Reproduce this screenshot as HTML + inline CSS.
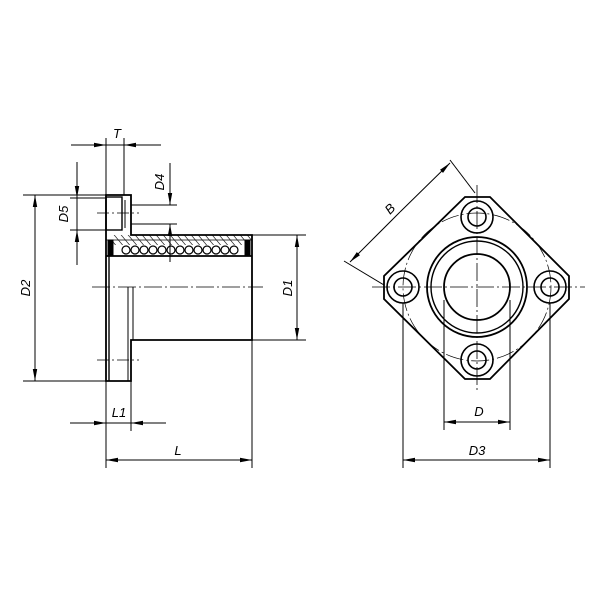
<!DOCTYPE html>
<html><head><style>body{margin:0;background:#fff}svg{display:block}</style></head><body>
<svg width="600" height="600" viewBox="0 0 600 600" xmlns="http://www.w3.org/2000/svg" font-family="Liberation Sans, sans-serif" font-style="italic" font-size="13">
<defs>
<marker id="a" markerWidth="12" markerHeight="6" refX="12" refY="3" orient="auto" markerUnits="userSpaceOnUse"><path d="M0,0.8 L12,3 L0,5.2z" fill="#000"/></marker>
<pattern id="h" width="7" height="10" patternUnits="userSpaceOnUse" patternTransform="skewX(40)"><line x1="1" y1="0" x2="1" y2="10" stroke="#000" stroke-width="0.8"/></pattern>
</defs>
<g stroke="#000" fill="none" stroke-width="1">
<!-- LEFT VIEW -->
<path d="M106,195 H131 V235 H252 V340 H131 V381 H106 Z" stroke-width="1.8"/>
<line x1="109" y1="255" x2="109" y2="381" stroke-width="1.4"/>
<line x1="128" y1="287" x2="128" y2="381" stroke-width="1"/>
<line x1="133" y1="287" x2="133" y2="340"/>
<rect x="106" y="197" width="16" height="33" stroke-width="1.4"/>
<line x1="125" y1="200" x2="125" y2="228"/>
<rect x="112" y="235" width="140" height="10" fill="url(#h)" stroke="none"/>
<line x1="106" y1="256" x2="252" y2="256" stroke-width="1.8"/>
<path d="M106,240 H252" stroke-width="0.8"/>
<rect x="108" y="240" width="5" height="15" fill="#000"/>
<rect x="245" y="240" width="5" height="15" fill="#000"/>
<g stroke-width="1.2">
<circle cx="126" cy="250" r="4"/><circle cx="135" cy="250" r="4"/><circle cx="144" cy="250" r="4"/><circle cx="153" cy="250" r="4"/><circle cx="162" cy="250" r="4"/><circle cx="171" cy="250" r="4"/><circle cx="180" cy="250" r="4"/><circle cx="189" cy="250" r="4"/><circle cx="198" cy="250" r="4"/><circle cx="207" cy="250" r="4"/><circle cx="216" cy="250" r="4"/><circle cx="225" cy="250" r="4"/><circle cx="234" cy="250" r="4"/>
</g>
<!-- centerlines -->
<line x1="92" y1="287" x2="263" y2="287" stroke-dasharray="18,3,2,3" stroke-width="0.8"/>
<line x1="97" y1="360" x2="139" y2="360" stroke-dasharray="12,3,2,3" stroke-width="0.8"/>
<line x1="97" y1="213" x2="139" y2="213" stroke-dasharray="12,3,2,3" stroke-width="0.8"/>
<!-- T -->
<line x1="106" y1="195" x2="106" y2="138"/><line x1="124" y1="195" x2="124" y2="138"/>
<line x1="71" y1="145" x2="106" y2="145" marker-end="url(#a)"/><line x1="161" y1="145" x2="124" y2="145" marker-end="url(#a)"/>
<line x1="106" y1="145" x2="124" y2="145"/>
<!-- D5 -->
<line x1="70" y1="198" x2="106" y2="198"/><line x1="70" y1="230" x2="106" y2="230"/>
<line x1="77" y1="162" x2="77" y2="198" marker-end="url(#a)"/><line x1="77" y1="265" x2="77" y2="230" marker-end="url(#a)"/>
<line x1="77" y1="198" x2="77" y2="230"/>
<!-- D4 -->
<line x1="131" y1="205" x2="177" y2="205"/><line x1="131" y1="224" x2="177" y2="224"/>
<line x1="170" y1="163" x2="170" y2="205" marker-end="url(#a)"/><line x1="170" y1="262" x2="170" y2="224" marker-end="url(#a)"/>
<!-- D2 -->
<line x1="23" y1="195" x2="106" y2="195"/><line x1="23" y1="381" x2="106" y2="381"/>
<line x1="35" y1="288" x2="35" y2="195" marker-end="url(#a)"/><line x1="35" y1="288" x2="35" y2="381" marker-end="url(#a)"/>
<!-- D1 -->
<line x1="252" y1="235" x2="306" y2="235"/><line x1="252" y1="340" x2="306" y2="340"/>
<line x1="297" y1="288" x2="297" y2="235" marker-end="url(#a)"/><line x1="297" y1="288" x2="297" y2="340" marker-end="url(#a)"/>
<!-- L1 / L -->
<line x1="106" y1="381" x2="106" y2="468"/><line x1="131" y1="381" x2="131" y2="431"/>
<line x1="252" y1="340" x2="252" y2="468"/>
<line x1="70" y1="423" x2="106" y2="423" marker-end="url(#a)"/><line x1="166" y1="423" x2="131" y2="423" marker-end="url(#a)"/>
<line x1="106" y1="423" x2="131" y2="423"/>
<line x1="179" y1="460" x2="106" y2="460" marker-end="url(#a)"/><line x1="179" y1="460" x2="252" y2="460" marker-end="url(#a)"/>

<!-- RIGHT VIEW -->
<path d="M465,197 H490 L569,276 V299 L490,379 H465 L384,299 V276 Z" stroke-width="1.8"/>
<circle cx="477" cy="287" r="74" stroke-dasharray="18,3,2,3" stroke-width="0.7"/>
<line x1="372" y1="287" x2="585" y2="287" stroke-dasharray="18,3,2,3" stroke-width="0.8"/>
<line x1="477" y1="185" x2="477" y2="390" stroke-dasharray="18,3,2,3" stroke-width="0.8"/>
<circle cx="477" cy="287" r="50" stroke-width="1.8"/>
<circle cx="477" cy="287" r="46" stroke-width="1.4"/>
<circle cx="477" cy="287" r="33" stroke-width="1.8"/>
<g stroke-width="1.6">
<circle cx="477" cy="217" r="16"/><circle cx="477" cy="217" r="9"/>
<circle cx="477" cy="360" r="16"/><circle cx="477" cy="360" r="9"/>
<circle cx="403" cy="287" r="16"/><circle cx="403" cy="287" r="9"/>
<circle cx="550" cy="287" r="16"/><circle cx="550" cy="287" r="9"/>
</g>
<!-- B -->
<line x1="384" y1="285" x2="344" y2="261"/><line x1="475" y1="193" x2="450" y2="160"/>
<line x1="400" y1="212" x2="350" y2="262" marker-end="url(#a)"/><line x1="400" y1="212" x2="450" y2="163" marker-end="url(#a)"/>
<!-- D -->
<line x1="444" y1="300" x2="444" y2="430"/><line x1="510" y1="300" x2="510" y2="430"/>
<line x1="477" y1="422" x2="444" y2="422" marker-end="url(#a)"/><line x1="477" y1="422" x2="510" y2="422" marker-end="url(#a)"/>
<!-- D3 -->
<line x1="403" y1="303" x2="403" y2="468"/><line x1="550" y1="303" x2="550" y2="468"/>
<line x1="477" y1="460" x2="403" y2="460" marker-end="url(#a)"/><line x1="477" y1="460" x2="550" y2="460" marker-end="url(#a)"/>
</g>
<g fill="#000" stroke="none">
<text x="117" y="138" text-anchor="middle">T</text>
<text transform="translate(68,214) rotate(-90)" text-anchor="middle">D5</text>
<text transform="translate(164,182) rotate(-90)" text-anchor="middle">D4</text>
<text transform="translate(30,288) rotate(-90)" text-anchor="middle">D2</text>
<text transform="translate(292,288) rotate(-90)" text-anchor="middle">D1</text>
<text x="119" y="417" text-anchor="middle">L1</text>
<text x="178" y="455" text-anchor="middle">L</text>
<text transform="translate(393,212) rotate(-45)" text-anchor="middle">B</text>
<text x="479" y="416" text-anchor="middle">D</text>
<text x="477" y="455" text-anchor="middle">D3</text>
</g>
</svg>
</body></html>
